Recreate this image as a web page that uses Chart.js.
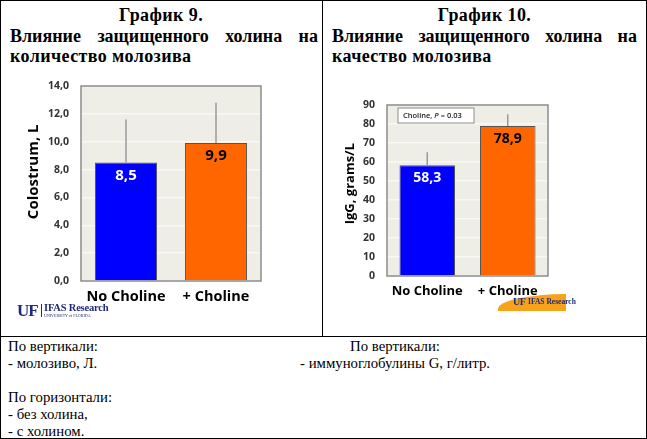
<!DOCTYPE html>
<html>
<head>
<meta charset="utf-8">
<script src="https://cdn.jsdelivr.net/npm/chart.js@4.4.1/dist/chart.umd.min.js"></script>
<style>
  body { margin: 0; background: #fff; }
  #page { position: relative; width: 647px; height: 439px; overflow: hidden; font-family: "Liberation Serif", "Times New Roman", serif; color: #000; }
  .line { position: absolute; background: #000; }
  .txt { position: absolute; white-space: nowrap; }
  .head { font-weight: bold; font-size: 18px; line-height: 20.5px; letter-spacing: 0.4px; }
  .just { text-align: justify; text-align-last: justify; letter-spacing: 0; }
  .foot { font-size: 14.8px; line-height: 17px; }
  canvas { position: absolute; }
  .uf { position: absolute; color: #1f2a78; font-family: "Liberation Serif", serif; font-weight: bold; }
</style>
</head>
<body>
<div id="page">
  <!-- table lines -->
  <div class="line" style="left:0;top:0;width:647px;height:1px"></div>
  <div class="line" style="left:0;top:438px;width:647px;height:1px"></div>
  <div class="line" style="left:0;top:0;width:1px;height:439px"></div>
  <div class="line" style="left:646px;top:0;width:1px;height:439px"></div>
  <div class="line" style="left:322px;top:0;width:1px;height:337px"></div>
  <div class="line" style="left:0;top:336px;width:647px;height:1px"></div>

  <!-- headers -->
  <div class="txt head" style="left:0;top:5px;width:322px;text-align:center">График 9.</div>
  <div class="txt head just" style="left:10px;top:25.5px;width:308px">Влияние защищенного холина на</div>
  <div class="txt head" style="left:10px;top:46px">количество молозива</div>

  <div class="txt head" style="left:323px;top:5px;width:323px;text-align:center">График 10.</div>
  <div class="txt head just" style="left:332px;top:25.5px;width:305px">Влияние защищенного холина на</div>
  <div class="txt head" style="left:332px;top:46px">качество молозива</div>

  <!-- footer notes -->
  <div class="txt foot" style="left:8px;top:338px">По вертикали:<br>- молозиво, Л.<br>&nbsp;<br>По горизонтали:<br>- без холина,<br>- с холином.</div>
  <div class="txt foot" style="left:245px;top:338px;width:300px;text-align:center">По вертикали:<br>- иммуноглобулины G, г/литр.</div>

  <canvas id="colostrumChart" width="265" height="240" style="left:10px;top:76px;width:265px;height:240px"></canvas>
  <canvas id="iggChart" width="232" height="216" style="left:330px;top:95px;width:232px;height:216px"></canvas>

  <!-- UF/IFAS logos -->
  <div class="uf" style="left:17px;top:301px;font-size:17px;letter-spacing:-1px">UF</div>
  <div style="position:absolute;left:41px;top:304px;width:1px;height:13px;background:#1f2a78"></div>
  <div class="uf" style="left:44px;top:302px;font-size:10.5px;letter-spacing:-0.2px">IFAS Research</div>
  <div class="uf" style="left:44px;top:313px;font-size:4px;font-weight:normal">UNIVERSITY of FLORIDA</div>

  <div style="position:absolute;left:498px;top:294px;width:68px;height:17px;background:#f7a21b;border-top-left-radius:68px 15px"></div>
  <div class="uf" style="left:513px;top:296px;font-size:10px;letter-spacing:-0.5px">UF</div>
  <div class="uf" style="left:528px;top:297px;font-size:7.5px">IFAS Research</div>
</div>

<script>
// Chart data
const categories = ["No Choline", "+ Choline"];
const colostrumValues = [8.5, 9.9];
const colostrumErrors = [3.1, 2.9];
const colostrumLabels = ["8,5", "9,9"];
const iggValues = [58.3, 78.9];
const iggErrors = [6.8, 6.2];
const iggLabels = ["58,3", "78,9"];
const barColors = ["#0000ff", "#ff6600"];
const valueLabelColors = ["#ffffff", "#000000"];

const sansFont = "'Open Sans', 'Liberation Sans', sans-serif";

// Plot background and frame, drawn under the bars
const plotFrame = {
    id: 'plotFrame',
    beforeDraw(chart) {
        const { ctx, chartArea: a } = chart;
        ctx.save();
        ctx.fillStyle = '#eeede6';
        ctx.fillRect(a.left, a.top, a.right - a.left, a.bottom - a.top);
        ctx.restore();
    },
    beforeDatasetsDraw(chart) {
        const { ctx, chartArea: a } = chart;
        ctx.save();
        ctx.strokeStyle = '#8c8c8c';
        ctx.lineWidth = 1.5;
        ctx.strokeRect(a.left, a.top, a.right - a.left, a.bottom - a.top);
        ctx.restore();
    }
};

// Upward error whiskers and value labels inside the bars
const barExtras = {
    id: 'barExtras',
    afterDatasetsDraw(chart, args, opts) {
        const { ctx } = chart;
        const yScale = chart.scales.y;
        const meta = chart.getDatasetMeta(0);
        const values = chart.data.datasets[0].data;
        ctx.save();
        meta.data.forEach((bar, i) => {
            const top = yScale.getPixelForValue(values[i] + opts.errors[i]);
            ctx.strokeStyle = '#9a9a9a';
            ctx.lineWidth = 1.5;
            ctx.beginPath();
            ctx.moveTo(bar.x, bar.y);
            ctx.lineTo(bar.x, top);
            ctx.stroke();

            ctx.fillStyle = valueLabelColors[i];
            ctx.font = 'bold ' + opts.fontSize + 'px ' + sansFont;
            ctx.textAlign = 'center';
            ctx.textBaseline = 'middle';
            ctx.fillText(opts.labels[i], bar.x, bar.y + 13);
        });
        if (opts.note) {
            const a = chart.chartArea;
            const x = a.left + 11, y = a.top + 3, w = 76, h = 15;
            ctx.fillStyle = '#ffffff';
            ctx.fillRect(x, y, w, h);
            ctx.strokeStyle = '#8c8c8c';
            ctx.lineWidth = 1;
            ctx.strokeRect(x, y, w, h);
            ctx.fillStyle = '#222';
            ctx.textAlign = 'left';
            ctx.textBaseline = 'middle';
            ctx.font = '600 7.5px ' + sansFont;
            let tx = x + 5;
            ctx.fillText('Choline, ', tx, y + h / 2);
            tx += ctx.measureText('Choline, ').width;
            ctx.font = 'italic 600 7.5px ' + sansFont;
            ctx.fillText('P', tx, y + h / 2);
            tx += ctx.measureText('P').width;
            ctx.font = '600 7.5px ' + sansFont;
            ctx.fillText(' = 0.03', tx, y + h / 2);
        }
        ctx.restore();
    }
};

function createChart(elementId, values, errors, labels, yMax, yStep, yTitle, titleSize, xSize, decimals, yWidth, padLeft, labelSize, note) {
    return new Chart(document.getElementById(elementId), {
        type: 'bar',
        data: {
            labels: categories,
            datasets: [{
                data: values,
                backgroundColor: barColors,
                borderColor: '#555555',
                borderWidth: 1,
                barPercentage: 0.69,
                categoryPercentage: 1
            }]
        },
        options: {
            responsive: false,
            animation: false,
            layout: { padding: { left: padLeft, top: 10, right: 14, bottom: 0 } },
            plugins: {
                legend: { display: false },
                tooltip: { enabled: false },
                barExtras: { errors: errors, labels: labels, fontSize: labelSize, note: note }
            },
            scales: {
                x: {
                    grid: { display: false, drawTicks: false },
                    border: { display: false },
                    ticks: {
                        padding: 7,
                        color: '#000',
                        maxRotation: 0,
                        minRotation: 0,
                        autoSkip: false,
                        font: { family: sansFont, size: xSize, weight: 'bold' }
                    },
                    afterFit(scale) { scale.height = 35; }
                },
                y: {
                    min: 0,
                    max: yMax,
                    grid: { color: '#f8f8f4', lineWidth: 1.5, drawTicks: true, tickLength: 10, tickColor: 'rgba(0,0,0,0)' },
                    border: { display: false },
                    ticks: {
                        stepSize: yStep,
                        padding: 2,
                        color: '#333',
                        font: { family: sansFont, size: 10.5, weight: 'bold' },
                        callback: function (value) {
                            return value.toFixed(decimals).replace('.', ',');
                        }
                    },
                    title: {
                        display: true,
                        text: yTitle,
                        color: '#000',
                        padding: { top: 4, bottom: 4 },
                        font: { family: sansFont, size: titleSize, weight: 'bold' }
                    },
                    afterFit(scale) { scale.width = yWidth; }
                }
            }
        },
        plugins: [plotFrame, barExtras]
    });
}

// leading spaces nudge the rotated titles upward, as in the original slides
const colostrumChart = createChart('colostrumChart', colostrumValues, colostrumErrors, colostrumLabels,
    14, 2, '      Colostrum, L', 15, 14.5, 1, 60, 11, 15, false);
const iggChart = createChart('iggChart', iggValues, iggErrors, iggLabels,
    90, 10, '    IgG, grams/L', 13, 13, 0, 49, 8, 14, true);
</script>
</body>
</html>
